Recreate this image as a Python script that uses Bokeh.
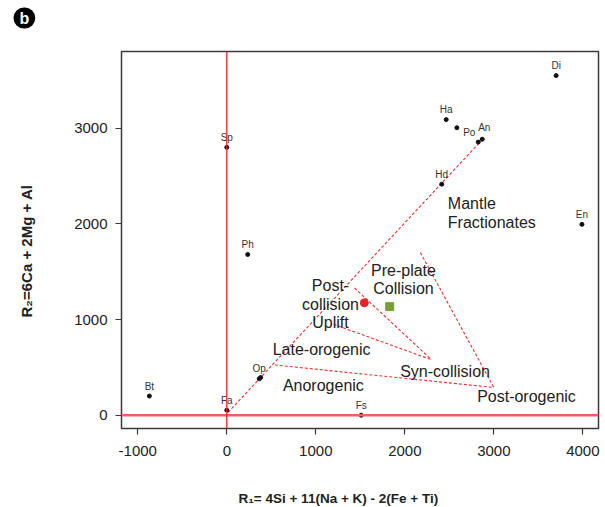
import math
from bokeh.plotting import figure
from bokeh.models import Range1d, FixedTicker, Span, Title, ColumnDataSource
from bokeh.core.properties import value
from bokeh.embed import file_html
from bokeh.resources import INLINE

# ---------------- data ----------------
minerals = ["Di", "Ha", "", "Po", "An", "Hd", "En", "Sp", "Ph", "Bt", "Fa", "Op", "", "Fs"]
mineral_r1 = [3700, 2465, 2585, 2825, 2870, 2415, 3990, 0, 235, -870, 0, 364, 380, 1510]
mineral_r2 = [3550, 3090, 3005, 2855, 2885, 2415, 1995, 2800, 1680, 200, 52, 380, 394, 0]

sample_circle_r1 = [1545]
sample_circle_r2 = [1175]
sample_square_r1 = [1830]
sample_square_r2 = [1135]

# field boundaries (dashed)
boundary_r1 = [[15, 2870], [540, 3000], [2175, 3000], [1435, 2300], [1200, 2300]]
boundary_r2 = [[30, 2880], [525, 290], [1700, 290], [1330, 580], [950, 580]]

# field names and anchors (data coordinates)
field_names = ["Pre-plate", "Collision", "Post-", "collision", "Uplift",
               "Late-orogenic", "Anorogenic", "Syn-collision", "Post-orogenic"]
field_r1 = [1985, 1985, 1165, 1165, 1165, 1065, 1085, 2452, 3367]
field_r2 = [1510, 1320, 1355, 1155, 972, 690, 307, 460, 195]
mantle_lines = ["Mantle", "Fractionates"]
mantle_r1 = [2483, 2483]
mantle_r2 = [2216, 2017]

x_ticks = [-1000, 0, 1000, 2000, 3000, 4000]
y_ticks = [0, 1000, 2000, 3000]

x_title = "R\u2081= 4Si + 11(Na + K) - 2(Fe + Ti)"
y_title = "R\u2082=6Ca + 2Mg + Al"
panel_letter = "b"

# ---------------- layout ----------------
W, H = 605, 507
FL, FR, FT, FB = 121, 598, 51, 428
X0, X1 = -1183, 4176
Y0, Y1 = -139, 3802

FONT = "Liberation Sans"
p = figure(width=W, height=H, x_range=Range1d(X0, X1), y_range=Range1d(Y0, Y1),
           output_backend="svg", toolbar_location=None,
           min_border_left=FL, min_border_right=W - FR,
           min_border_top=FT, min_border_bottom=H - FB)
p.grid.visible = False
p.outline_line_color = "#3a3a3a"
p.outline_line_width = 1.5
p.background_fill_color = "white"
p.border_fill_color = "white"

for ax, ticks in ((p.xaxis, x_ticks), (p.yaxis, y_ticks)):
    ax.ticker = FixedTicker(ticks=ticks)
    ax.major_label_overrides = {t: str(t) for t in ticks}
    ax.axis_line_color = None
    ax.major_tick_out = 6
    ax.major_tick_in = 0
    ax.major_tick_line_color = "#3a3a3a"
    ax.major_tick_line_width = 1.2
    ax.minor_tick_line_color = None
    ax.major_label_text_font_size = "15px"
    ax.major_label_text_font = FONT
    ax.major_label_text_color = "#222222"
p.xaxis.major_label_standoff = 11
p.yaxis.major_label_standoff = 8

# solid reference lines
p.add_layout(Span(location=0, dimension="width", line_color="#ee5f62", line_width=2.6))
p.add_layout(Span(location=0, dimension="height", line_color="#ff1f1f", line_width=1.3))

# dashed boundaries
p.multi_line(xs=boundary_r1, ys=boundary_r2, line_color="#f0302f",
             line_dash="3 2", line_width=1.1)

# mineral points and labels
label_offsets = {"An": (2, -12), "Po": (-9, -10)}
dx = [label_offsets.get(n, (0, -10))[0] for n in minerals]
dy = [label_offsets.get(n, (0, -10))[1] for n in minerals]
src = ColumnDataSource(dict(r1=mineral_r1, r2=mineral_r2, name=minerals, dx=dx, dy=dy))
p.scatter("r1", "r2", source=src, size=4, color="#111111")
p.text("r1", "r2", text="name", source=src, x_offset="dx", y_offset="dy",
       text_align="center", text_baseline="middle", text_font_size="10px",
       text_color="#333333", text_font=value(FONT))

# samples
p.scatter(sample_circle_r1, sample_circle_r2, size=8, color="#e8232a")
p.scatter(sample_square_r1, sample_square_r2, marker="square", size=8, color="#7a9e36")

# field names
p.text(field_r1, field_r2, text=field_names, text_align="center", text_baseline="middle",
       text_font_size="16px", text_color="#222222", text_font=value(FONT))
p.text(mantle_r1, mantle_r2, text=mantle_lines, text_align="left", text_baseline="middle",
       text_font_size="16px", text_color="#222222", text_font=value(FONT))


def spacer(gap):
    return Title(text=" ", text_font_size="1px", standoff=gap)


# x-axis title (spacer keeps it well below the tick labels)
p.add_layout(spacer(27), "below")
p.add_layout(Title(text=x_title, align="left", offset=117, standoff=0,
                   text_font_size="13.5px", text_font_style="bold", text_font=FONT,
                   text_color="#222222"), "below")

# y-axis title
p.add_layout(spacer(34), "left")
p.add_layout(Title(text=y_title, align="left", offset=111, standoff=0,
                   text_font_size="15px", text_font_style="bold", text_font=FONT,
                   text_color="#222222"), "left")

# panel letter badge
p.add_layout(spacer(20), "above")
p.add_layout(Title(text=panel_letter, align="left", offset=-108, standoff=0,
                   text_font_size="16px", text_font_style="bold", text_font=FONT,
                   text_color="white", background_fill_color="black",
                   border_radius=11, padding=(6, 2)), "above")

open("out.html", "w").write(file_html(p, INLINE))
